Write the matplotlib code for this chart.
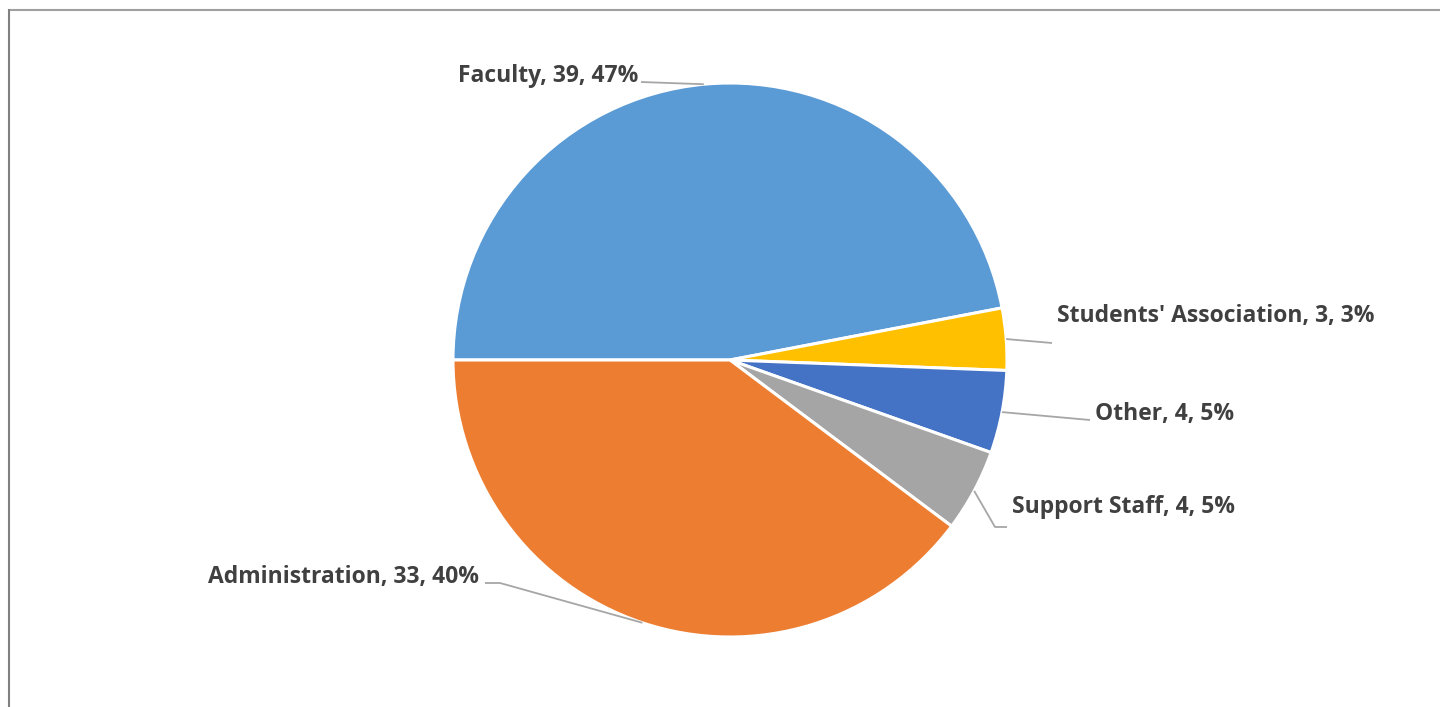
import numpy as np
import matplotlib
matplotlib.use("Agg")
import matplotlib.pyplot as plt

# Staff composition by group
categories = ["Faculty", "Students' Association", "Other", "Support Staff", "Administration"]
counts = [39, 3, 4, 4, 33]
percent_labels = ["47%", "3%", "5%", "5%", "40%"]
colors = ["#5B9BD5", "#FFC000", "#4472C4", "#A5A5A5", "#ED7D31"]

W, H = 1440, 707
CX, CY, R = 730, 360, 277

# label placement: (x, baseline y, horizontal alignment, leader elbow points)
label_layout = [
    (638, 82, "right", [(641, 82)]),
    (1057, 322, "left", [(1052, 343)]),
    (1095, 420, "left", [(1090, 420)]),
    (1012, 513, "left", [(995, 527), (1007, 527)]),
    (479, 583, "right", [(500, 583), (485, 583)]),
]

TEXT_COLOR = "#404040"
LEADER_COLOR = "#A6A6A6"

fig = plt.figure(figsize=(W / 100, H / 100), dpi=100)
ax = fig.add_axes([0, 0, 1, 1])

wedges, _ = ax.pie(
    counts,
    colors=colors,
    startangle=180,
    counterclock=True,
    center=(CX, CY),
    radius=R,
    wedgeprops=dict(edgecolor="white", linewidth=2.2),
)
ax.set_xlim(0, W)
ax.set_ylim(H, 0)
ax.set_aspect("equal")
ax.axis("off")

for w, cat, n, pct, (tx, ty, ha, elbow) in zip(
    wedges, categories, counts, percent_labels, label_layout
):
    mid = np.deg2rad((w.theta1 + w.theta2) / 2)
    ax_pt = (CX + R * np.cos(mid), CY + R * np.sin(mid))
    pts = [ax_pt] + elbow
    xs, ys = zip(*pts)
    ax.plot(xs, ys, color=LEADER_COLOR, lw=1.3, solid_capstyle="butt", zorder=3)
    ax.text(
        tx, ty, f"{cat}, {n}, {pct}",
        ha=ha, va="baseline",
        fontsize=16.5, fontweight="bold", family="Open Sans",
        color=TEXT_COLOR, zorder=4,
    )

# chart frame (top and left edges)
ax.plot([8, W], [9.5, 9.5], color="#A0A0A0", lw=1.5, solid_capstyle="butt")
ax.plot([8.5, 8.5], [9, H], color="#808080", lw=1.5, solid_capstyle="butt")

fig.savefig("out.png", dpi=100, facecolor="white")
